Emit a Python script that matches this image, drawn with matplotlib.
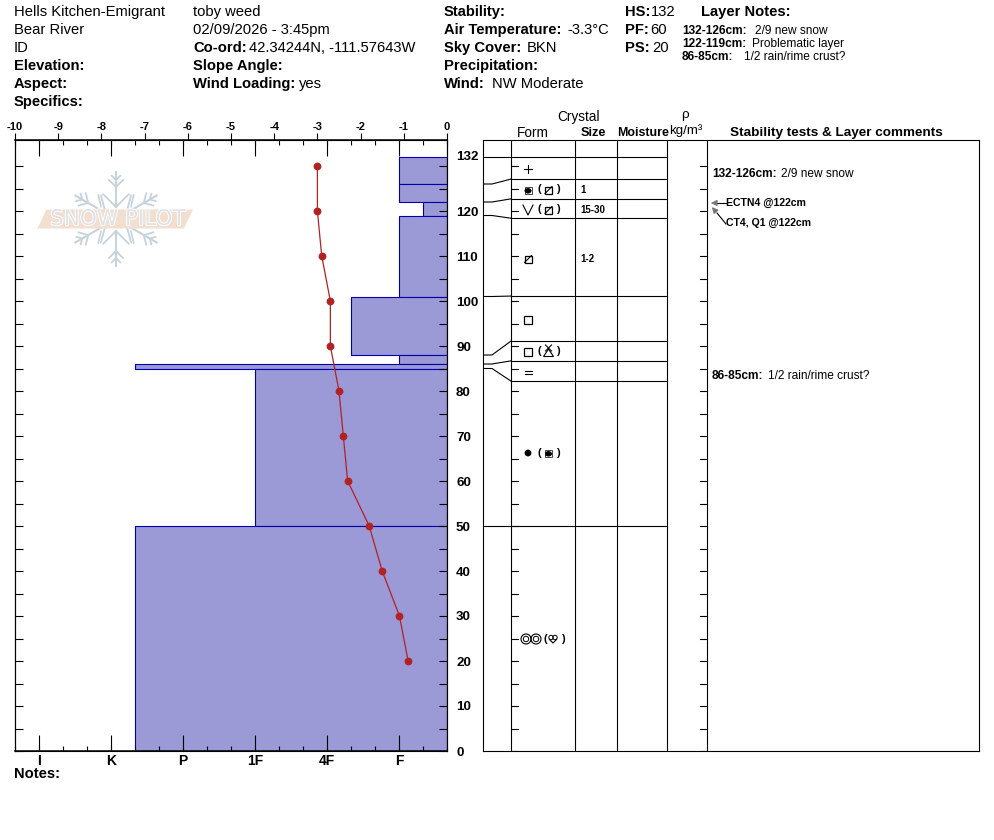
"""Snow profile: hardness bars, temperature line and layer table."""
import numpy as np
import matplotlib
matplotlib.use("Agg")
import matplotlib.pyplot as plt
import matplotlib.patheffects as pe
from matplotlib.patches import Polygon, Rectangle, Circle, Ellipse

plt.rcParams["font.family"] = ["Liberation Sans", "DejaVu Sans"]
plt.rcParams["axes.unicode_minus"] = False

W, H = 994, 840
LEFT, RIGHT, TOP, BOTTOM = 15, 447, 140, 751

# layers, top to bottom
LAYER_TOP = [132, 126, 122, 119, 101, 88, 86, 85, 50]
LAYER_BOTTOM = [126, 122, 119, 101, 88, 86, 85, 50, 0]
LAYER_HARDNESS = [1, 1, 0.667, 1, 1.667, 1, 4.667, 3, 4.667]
# where each layer's row boundary lands in the table (cm scale)
ROW_TOP = [132, 127.1, 122.7, 118.4, 101.1, 91.1, 86.7, 82.2, 50]

TEMP_DEPTH = [130, 120, 110, 100, 90, 80, 70, 60, 50, 40, 30, 20]
TEMP_VALUE = [-3.0, -3.0, -2.9, -2.7, -2.7, -2.5, -2.4, -2.3, -1.8, -1.5, -1.1, -0.9]

HARD_LABELS = ["I", "K", "P", "1F", "4F", "F"]
HARD_POS = [6, 5, 4, 3, 2, 1]

# y pixel, main grain, secondary grain in brackets
FORM_ROWS = [
    (169, "plus", None),
    (190, "cup", "slash"),
    (210, "vee", "slash"),
    (259, "slash", None),
    (320, "square", None),
    (352, "square", "tri"),
    (372, "equals", None),
    (453, "dot", "cup"),
    (639, "rings", "heart"),
]
SIZE_ROWS = [(190, "1"), (210, "15-30"), (259, "1-2")]
COLUMNS = [511, 575, 617, 667, 707]

fig = plt.figure(figsize=(W / 100, H / 100), dpi=100)
rect = [LEFT / W, 1 - BOTTOM / H, (RIGHT - LEFT) / W, (BOTTOM - TOP) / H]
rect2 = [483 / W, 1 - BOTTOM / H, (979 - 483) / W, (BOTTOM - TOP) / H]
y_top = (BOTTOM - TOP) / 4.5
LW = 0.8

# ---- hardness / temperature panel
ax = fig.add_axes(rect)
ax.set_xlim(6.333, 0.333)
ax.set_ylim(0, y_top)
ax.barh(LAYER_BOTTOM, [h - 0.333 for h in LAYER_HARDNESS],
        height=[t - b for t, b in zip(LAYER_TOP, LAYER_BOTTOM)], left=0.333,
        align="edge", color="#9b99d6", edgecolor="#0000aa", linewidth=LW)

ax_t = ax.twiny()
ax_t.set_xlim(-10, 0)
ax_t.plot(TEMP_VALUE, TEMP_DEPTH, color="#b22222", lw=0.9, marker="o", ms=4.6)
ax_t.set_xticks(range(-10, 1))
ax_t.tick_params(axis="x", direction="out", length=5, width=LW, pad=1, labelsize=8)
for lab in ax_t.get_xticklabels():
    lab.set_fontweight("bold")

ax.set_xticks(HARD_POS, HARD_LABELS, fontsize=10, fontweight="bold")
ax.set_xticks(np.arange(0.333, 6.4, 1 / 3), minor=True)
ax.tick_params(axis="x", which="major", direction="in", length=11.5, width=LW,
               top=True, bottom=True, pad=2)
ax.tick_params(axis="x", which="minor", direction="in", length=3.6, width=LW,
               top=True, bottom=True)
cm_ticks = list(range(0, 131, 5))
cm_labels = [str(c) if c % 10 == 0 and c < 130 else "" for c in cm_ticks]
ax.set_yticks(cm_ticks, cm_labels, fontsize=9.6, fontweight="bold")
ax.tick_params(axis="y", direction="in", length=5.5, width=LW, left=True, right=True,
               labelleft=False, labelright=True, pad=6.5)
for a in (ax, ax_t):
    for s in a.spines.values():
        s.set_linewidth(LW)
ax.spines["top"].set_linewidth(1.1)
ax.spines["bottom"].set_linewidth(1.1)

# ---- layer table
tb = fig.add_axes(rect2)
tb.set_xlim(483, 979)
tb.set_ylim(0, y_top)
tb.set_xticks([])
tb.set_yticks([])
for s in tb.spines.values():
    s.set_linewidth(LW)
tb.vlines(COLUMNS, 0, y_top, color="black", lw=LW)
for cm_real, cm_row in zip(LAYER_TOP, ROW_TOP):
    tb.plot([483, 492, 511], [cm_real, cm_real, cm_row], color="black", lw=LW)
    tb.plot([511, 667], [cm_row, cm_row], color="black", lw=LW)
for c in cm_ticks:
    tb.plot([511, 518], [c, c], color="black", lw=LW)
    tb.plot([700, 707], [c, c], color="black", lw=LW)

# ---- everything placed by pixel: header, logo, crystal glyphs
ov = fig.add_axes([0, 0, 1, 1])
ov.set_xlim(0, W)
ov.set_ylim(H, 0)
ov.axis("off")
ov.patch.set_alpha(0)


def txt(x, y, s, size=10.6, bold=False, ha="left", **kw):
    ov.text(x, y, s, fontsize=size, fontweight="bold" if bold else "normal",
            ha=ha, va="center", **kw)


for x, y, s, b in [
    (14, 12, "Hells Kitchen-Emigrant", False), (14, 30, "Bear River", False),
    (14, 48, "ID", False), (14, 66, "Elevation:", True), (14, 84, "Aspect:", True),
    (14, 102, "Specifics:", True),
    (193, 12, "toby weed", False), (193, 30, "02/09/2026 - 3:45pm", False),
    (193, 48, "Co-ord:", True), (249, 48, "42.34244N, -111.57643W", False),
    (193, 66, "Slope Angle:", True), (193, 84, "Wind Loading:", True),
    (299, 84, "yes", False),
    (444, 12, "Stability:", True), (444, 30, "Air Temperature:", True),
    (567, 30, "-3.3°C", False), (444, 48, "Sky Cover:", True), (527, 48, "BKN", False),
    (444, 66, "Precipitation:", True), (444, 84, "Wind:", True),
    (492, 84, "NW Moderate", False),
    (625, 12, "HS:", True), (651, 12, "132", False), (625, 30, "PF:", True),
    (650, 30, "60", False), (625, 48, "PS:", True), (652, 48, "20", False),
    (701, 12, "Layer Notes:", True),
    (14, 774, "Notes:", True),
]:
    txt(x, y, s, bold=b)

for x, y, s, b in [
    (682, 31, "132-126cm:", True), (755, 31, "2/9 new snow", False),
    (682, 44, "122-119cm:", True), (752, 44, "Problematic layer", False),
    (682, 57, "86-85cm:", True), (744, 57, "1/2 rain/rime crust?", False),
    (712, 174, "132-126cm:", True), (781, 174, "2/9 new snow", False),
    (712, 376, "86-85cm:", True), (768, 376, "1/2 rain/rime crust?", False),
]:
    txt(x, y, s, size=8.6, bold=b)
txt(726, 203, "ECTN4 @122cm", size=7.6, bold=True)
txt(726, 223, "CT4, Q1 @122cm", size=7.6, bold=True)

txt(578, 117, "Crystal", size=9.8, ha="center")
txt(533, 133, "Form", size=9.8, ha="center")
txt(593, 133, "Size", size=9.2, ha="center", bold=True)
txt(643, 133, "Moisture", size=8.9, ha="center", bold=True)
txt(685, 115, "ρ", size=9.6, ha="center")
txt(686, 131, "kg/m³", size=9.6, ha="center")
txt(836.5, 133, "Stability tests & Layer comments", size=9.7, ha="center", bold=True)
txt(456, 157, "132", size=9.6, bold=True)
for y, s in SIZE_ROWS:
    txt(580, y, s, size=7, bold=True)

# arrows to the stability tests
ov.plot([717, 726], [203, 203], color="black", lw=LW)
ov.plot([717, 726], [213, 224], color="black", lw=LW)
ov.annotate("", xy=(708, 203), xytext=(718, 203),
            arrowprops=dict(arrowstyle="-|>", color="#777777", lw=LW, mutation_scale=9))
ov.annotate("", xy=(710, 205), xytext=(718, 214),
            arrowprops=dict(arrowstyle="-|>", color="#777777", lw=LW, mutation_scale=9))


def glyph(name, x, y):
    """Crystal form glyph centred at pixel (x, y)."""
    k = dict(color="black", lw=0.8)
    if name == "plus":
        ov.plot([x - 4, x + 4], [y, y], **k)
        ov.plot([x, x], [y - 4, y + 4], **k)
    elif name == "square":
        ov.add_patch(Rectangle((x - 4, y - 4), 8, 8, fill=False, ec="black", lw=0.9))
    elif name == "slash":
        ov.add_patch(Rectangle((x - 3.5, y - 3.5), 7, 7, fill=False, ec="black", lw=0.9))
        ov.plot([x - 3.5, x + 3.5], [y + 3.5, y - 3.5], **k)
    elif name == "cup":
        ov.add_patch(Rectangle((x - 3.5, y - 3.5), 7, 7, fill=False, ec="#444444", lw=0.7))
        ov.add_patch(Ellipse((x, y + 0.8), 7, 5.5, color="black", lw=0))
    elif name == "vee":
        ov.plot([x - 5, x, x + 5], [y - 5, y + 5, y - 5], **k)
    elif name == "equals":
        ov.plot([x - 3.5, x + 3.5], [y - 1.5, y - 1.5], **k)
        ov.plot([x - 3.5, x + 3.5], [y + 1.5, y + 1.5], **k)
    elif name == "dot":
        ov.add_patch(Circle((x, y), 3.4, color="black", lw=0))
    elif name == "tri":
        ov.add_patch(Polygon([(x - 5, y + 4.5), (x + 5, y + 4.5), (x, y - 3)], fill=False,
                             ec="black", lw=0.8))
        ov.plot([x - 3, x + 3], [y - 7, y - 1], **k)
        ov.plot([x + 3, x - 3], [y - 7, y - 1], **k)
    elif name == "rings":
        for dx in (-5, 5):
            ov.add_patch(Circle((x + dx, y), 5, fill=False, ec="black", lw=0.8))
            ov.add_patch(Circle((x + dx, y), 2.7, fill=False, ec="black", lw=0.7))
    elif name == "heart":
        ov.add_patch(Circle((x - 2, y - 1.5), 2.2, fill=False, ec="black", lw=0.7))
        ov.add_patch(Circle((x + 2, y - 1.5), 2.2, fill=False, ec="black", lw=0.7))
        ov.plot([x - 3.5, x, x + 3.5], [y + 0.5, y + 4, y + 0.5], **k)


for y, main, second in FORM_ROWS:
    wide = main == "rings"
    glyph(main, 531 if wide else 528, y)
    if second:
        txt(545 if wide else 539.5, y - 0.5, "(", size=8, ha="center", bold=True)
        glyph(second, 553 if wide else 548.5, y)
        txt(563 if wide else 557.5, y - 0.5, ")", size=8, ha="center", bold=True)


# ---- logo
FLAKE = "#c6d3dd"
cx, cy = 116, 219
for deg in (90, 30, -30, -90, 150, 210):
    a = np.radians(deg)
    u = np.array([np.cos(a), -np.sin(a)])
    ov.plot([cx + 12 * u[0], cx + 47 * u[0]], [cy + 12 * u[1], cy + 47 * u[1]],
            color=FLAKE, lw=1.5, zorder=0.5)
    for r, l in [(39, 6), (32, 10), (12, 18)]:
        for sgn in (-1, 1):
            b_ang = a + sgn * np.radians(45)
            v = np.array([np.cos(b_ang), -np.sin(b_ang)])
            ov.plot([cx + r * u[0], cx + r * u[0] + l * v[0]],
                    [cy + r * u[1], cy + r * u[1] + l * v[1]],
                    color=FLAKE, lw=1.3, zorder=0.5)
for sx in (-1, 1):
    for sy in (-1, 1):
        ov.plot([cx + sx * 17.7, cx + sx * 15], [cy + sy * 24, cy + sy * 12.3],
                color=FLAKE, lw=1.2, zorder=0.5)
ov.add_patch(Polygon([(37.5, 228.5), (46.5, 209.5), (193, 209.5), (184, 228.5)],
                     color="#f3dfcf", lw=0, zorder=0.6))
ov.text(118, 219, "SNOW PILOT", fontsize=15.5, family="DejaVu Sans", ha="center",
        va="center", color="#dfe3e6", zorder=0.7,
        path_effects=[pe.withStroke(linewidth=1.3, foreground="white")])

fig.savefig("out.png", dpi=100)
